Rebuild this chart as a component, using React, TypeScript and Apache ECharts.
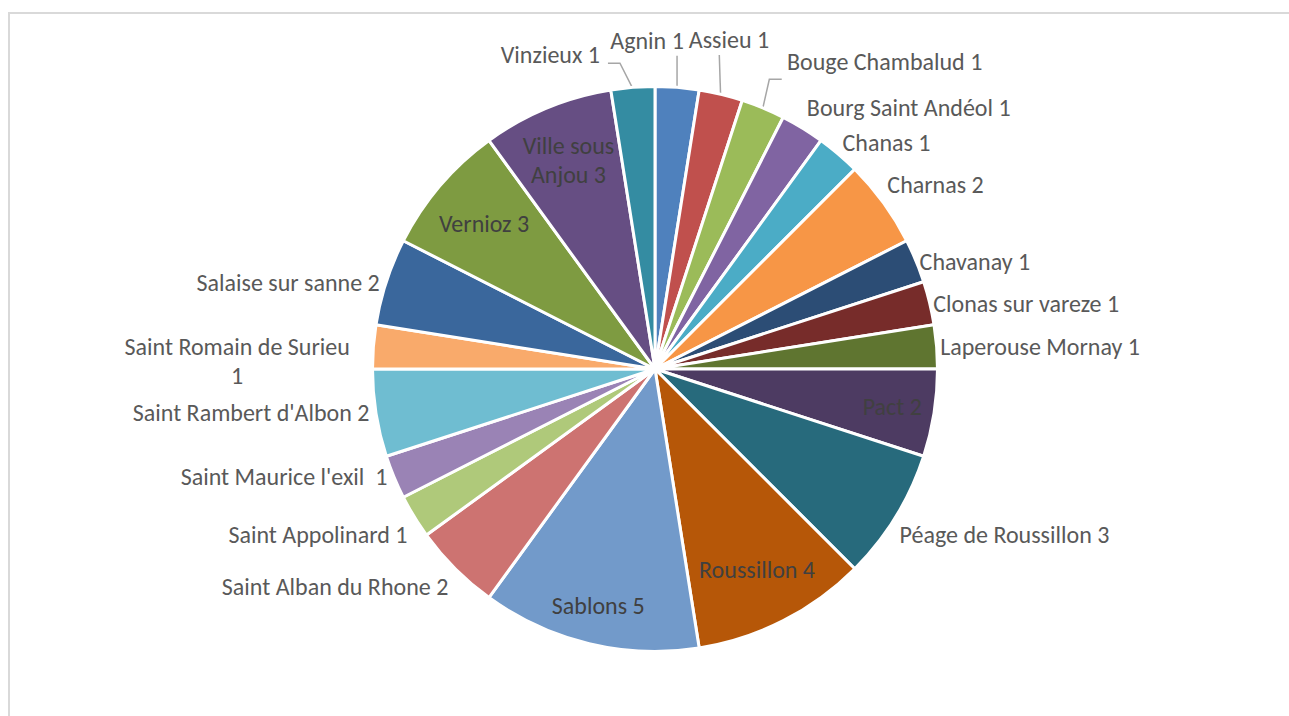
import React, { useEffect, useRef } from "react";
import * as echarts from "echarts";

// ---- data ----
const names = [
  "Agnin",
  "Assieu",
  "Bouge Chambalud",
  "Bourg Saint Andéol",
  "Chanas",
  "Charnas",
  "Chavanay",
  "Clonas sur vareze",
  "Laperouse Mornay",
  "Pact",
  "Péage de Roussillon",
  "Roussillon",
  "Sablons",
  "Saint Alban du Rhone",
  "Saint Appolinard",
  "Saint Maurice l'exil ",
  "Saint Rambert d'Albon",
  "Saint Romain de Surieu",
  "Salaise sur sanne",
  "Vernioz",
  "Ville sous Anjou",
  "Vinzieux",
];
const values = [1, 1, 1, 1, 1, 2, 1, 1, 1, 2, 3, 4, 5, 2, 1, 1, 2, 1, 2, 3, 3, 1];
const colors = [
  "#4F81BD",
  "#C0504D",
  "#9BBB59",
  "#8064A2",
  "#4BACC6",
  "#F79646",
  "#2C4D75",
  "#772C2A",
  "#5F7530",
  "#4D3B62",
  "#276A7C",
  "#B65708",
  "#729ACA",
  "#CD7371",
  "#AFC97A",
  "#9A83B5",
  "#6FBDD1",
  "#F9AA6B",
  "#3A679C",
  "#7E9B41",
  "#664E83",
  "#348CA2",
];

// ---- layout / style ----
const CX = 655;
const CY = 369;
const R = 281;
const FONT = "Carlito, Lato, sans-serif";
const FONT_SIZE = 24;

const insideFrac: Record<string, number> = {
  Pact: 0.855,
  Roussillon: 0.8,
  Sablons: 0.865,
  Vernioz: 0.8,
  "Ville sous Anjou": 0.805,
};

type Leader = { ax: number; ay: number; align: string; knee: number[]; end: number[] };
const leaders: Record<string, Leader> = {
  Vinzieux: { ax: -33, ay: -34, align: "right", knee: [-13, -25.7], end: [-25, -25.7] },
  Agnin: { ax: -30, ay: -48, align: "center", knee: [0, -33], end: [0, -33] },
  Assieu: { ax: 8.4, ay: -55.8, align: "center", knee: [-1.3, -40.8], end: [-1.3, -40.8] },
  "Bouge Chambalud": { ax: 24.5, ay: -47.4, align: "left", knee: [6.8, -30.1], end: [19.2, -30.1] },
};

// small vertical adjustments of outside labels (best-fit placement)
const labelNudgeY: Record<string, number> = {
  "Bourg Saint Andéol": -3,
  Chanas: 6,
};

const wrapped: Record<string, (v: number) => string> = {
  "Ville sous Anjou": (v) => "Ville sous\nAnjou " + v,
  "Saint Romain de Surieu": (v) => "Saint Romain de Surieu\n" + v,
};

export default function App() {
  const ref = useRef<HTMLDivElement>(null);

  useEffect(() => {
    if (!ref.current) return;
    const chart = echarts.init(ref.current, undefined, { renderer: "svg" });

    const total = values.reduce((a, b) => a + b, 0);
    const mids: number[] = [];
    let acc = 0;
    values.forEach((v) => {
      mids.push(((acc + v / 2) / total) * Math.PI * 2);
      acc += v;
    });

    const data = names.map((n, i) => {
      const inside = insideFrac[n] != null;
      const lead = leaders[n] != null;
      return {
        name: n,
        value: values[i],
        itemStyle: { color: colors[i] },
        label: {
          position: inside ? "inside" : "outside",
          color: inside ? "#404040" : "#595959",
        },
        labelLine: {
          show: lead,
          lineStyle: { color: "#A6A6A6", width: 1.5 },
        },
      };
    });

    chart.setOption({
      animation: false,
      backgroundColor: "#ffffff",
      graphic: [
        {
          type: "rect",
          shape: { x: 9, y: 13, width: 1400, height: 800 },
          style: { fill: "none", stroke: "#D9D9D9", lineWidth: 2 },
          silent: true,
        },
      ],
      series: [
        {
          type: "pie",
          center: [CX, CY],
          radius: [0, R + 1.5],
          startAngle: 90,
          clockwise: true,
          avoidLabelOverlap: false,
          silent: true,
          itemStyle: { borderColor: "#ffffff", borderWidth: 3 },
          label: {
            show: true,
            fontFamily: FONT,
            fontSize: FONT_SIZE,
            lineHeight: 29,
            formatter: (p: any) => {
              const w = wrapped[p.name];
              return w ? w(p.value) : p.name + " " + p.value;
            },
          },
          labelLine: { show: false },
          labelLayout: (p: any) => {
            const i = p.dataIndex;
            const n = names[i];
            const a = mids[i];
            const dx = Math.sin(a);
            const dy = -Math.cos(a);
            const ex = CX + R * dx;
            const ey = CY + R * dy;
            if (insideFrac[n] != null) {
              const f = insideFrac[n];
              return {
                x: CX + f * R * dx,
                y: CY + f * R * dy,
                align: "center",
                verticalAlign: "middle",
              };
            }
            const L = leaders[n];
            if (L) {
              return {
                x: ex + L.ax,
                y: ey + L.ay,
                align: L.align,
                verticalAlign: "middle",
                labelLinePoints: [
                  [ex, ey],
                  [ex + L.knee[0], ey + L.knee[1]],
                  [ex + L.end[0], ey + L.end[1]],
                ],
              };
            }
            if (n === "Saint Romain de Surieu") {
              const w = p.labelRect ? p.labelRect.width : 0;
              return {
                x: ex - 25 - w / 2,
                y: ey + 14.5,
                align: "center",
                verticalAlign: "middle",
              };
            }
            const right = dx > 0;
            const oy = (Math.abs(dy) < 0.45 ? 0 : dy > 0 ? 19 : -19) + (labelNudgeY[n] || 0);
            return {
              x: right ? ex + 5 : ex - 8,
              y: ey + oy,
              align: right ? "left" : "right",
              verticalAlign: "middle",
            };
          },
          data,
        },
      ],
    });

    return () => chart.dispose();
  }, []);

  return (
    <div
      ref={ref}
      style={{ position: "absolute", left: 0, top: 0, width: 1289, height: 716 }}
    />
  );
}
